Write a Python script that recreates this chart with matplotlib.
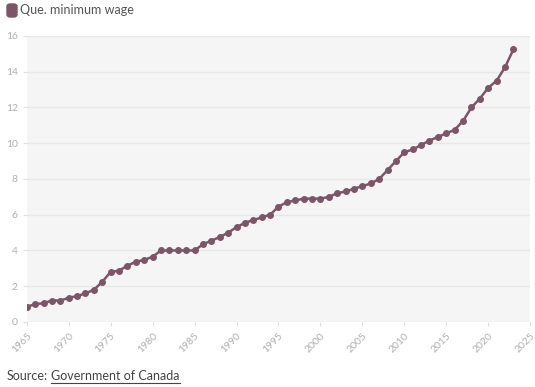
import matplotlib.pyplot as plt
from matplotlib.patches import FancyBboxPatch

plt.rcParams['font.family'] = ['Lato', 'DejaVu Sans']

years = list(range(1965, 2024))
wage = [0.85, 1.00, 1.05, 1.20, 1.20, 1.35, 1.45, 1.60, 1.80, 2.25,
        2.80, 2.87, 3.15, 3.37, 3.47, 3.65, 4.00, 4.00, 4.00, 4.00,
        4.00, 4.35, 4.55, 4.75, 5.00, 5.30, 5.55, 5.70, 5.85, 6.00,
        6.45, 6.70, 6.80, 6.90, 6.90, 6.90, 7.00, 7.20, 7.30, 7.45,
        7.60, 7.75, 8.00, 8.50, 9.00, 9.50, 9.65, 9.90, 10.15, 10.35,
        10.55, 10.75, 11.25, 12.00, 12.50, 13.10, 13.50, 14.25, 15.25]
x_ticks = list(range(1965, 2030, 5))
y_ticks = list(range(0, 18, 2))

color = '#7d5568'

fig = plt.figure(figsize=(5.35, 3.87), dpi=100)
ax = fig.add_axes([0.050, 0.168, 0.941, 0.739])
ax.set_facecolor('#f5f5f5')
ax.plot(years, wage, color=color, lw=1.8, marker='o', ms=4)

ax.set_xlim(1965, 2025)
ax.set_ylim(0, 16)
ax.set_xticks(x_ticks)
ax.set_yticks(y_ticks)
ax.grid(axis='y', color='#e8e8e8', lw=1)
ax.set_axisbelow(True)
for s in ax.spines.values():
    s.set_visible(False)
ax.tick_params(axis='both', colors='#e0e0e0', labelcolor='#b0b0b0', labelsize=7.5, length=3)
plt.setp(ax.get_xticklabels(), rotation=45, ha='right', rotation_mode='anchor')
for lbl in ax.get_xticklabels():
    lbl.set_x(lbl.get_position()[0] + 0.6)

# legend
fig.patches.append(FancyBboxPatch((7 / 535, 1 - 17 / 387), 10 / 535, 13 / 387,
                                  boxstyle='round,pad=0,rounding_size=0.006',
                                  transform=fig.transFigure, color=color))
fig.text(20 / 535, 1 - 10 / 387, 'Que. minimum wage', fontsize=9, color='#555555', va='center')

# source
fig.canvas.draw()
r = fig.canvas.get_renderer()
t = fig.text(7 / 535, 1 - 376 / 387, 'Source:', fontsize=9, color='#444444', va='center')
x0 = (t.get_window_extent(r).x1 + 3) / 535
t2 = fig.text(x0, 1 - 376 / 387, 'Government of Canada', fontsize=9, color='#444444', va='center')
bb = t2.get_window_extent(r)
fig.add_artist(plt.Line2D([bb.x0 / 535, bb.x1 / 535], [(bb.y0 - 1) / 387] * 2,
                          color='#444444', lw=0.8))

fig.savefig('out.png', dpi=100)
